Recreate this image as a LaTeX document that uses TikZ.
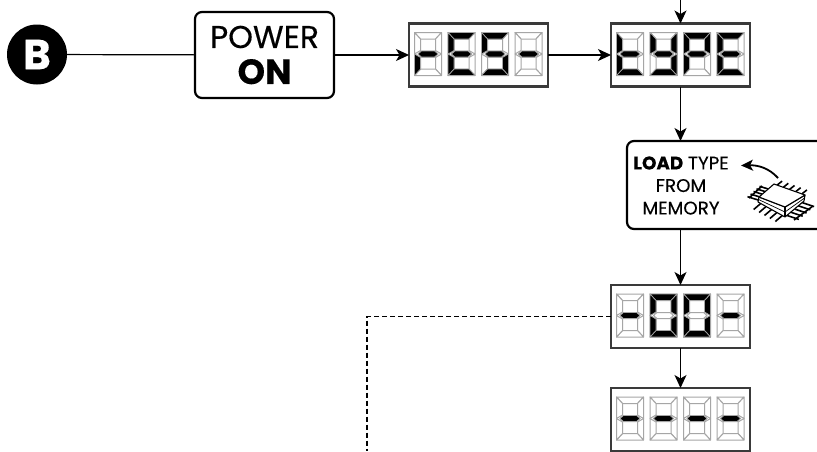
\documentclass[tikz,border=0pt]{standalone}
\usepackage{fontspec}
\setmainfont{Poppins}[FakeBold=0.35]
\usepackage{xcolor}
\usetikzlibrary{arrows.meta,positioning,calc}
\definecolor{frameline}{HTML}{3A3A3A}
\definecolor{segoff}{HTML}{A6A6A6}
% the seven segments, in a cell of 27 x 43
\def\sega{(0,0)--(27,0)--(21,6.5)--(6,6.5)--cycle}
\def\segb{(27,0)--(21,6.5)--(21,18)--(27,21.5)--cycle}
\def\segc{(27,43)--(21,36.5)--(21,25)--(27,21.5)--cycle}
\def\segd{(0,43)--(27,43)--(21,36.5)--(6,36.5)--cycle}
\def\sege{(0,43)--(6,36.5)--(6,25)--(0,21.5)--cycle}
\def\segf{(0,0)--(6,6.5)--(6,18)--(0,21.5)--cycle}
\def\segg{(3.5,21.5)--(7,18.5)--(20,18.5)--(23.5,21.5)--(20,24.5)--(7,24.5)--cycle}
\newcommand{\lcdcell}[3]{%
  \begin{scope}[shift={($(#1.center)+(#2,-22.5)$)}]
    \foreach \s in {a,b,c,d,e,f,g} {\draw[segoff,line width=1pt,line join=round,fill=white] \csname seg\s\endcsname;}
    \foreach \s in {#3} {\filldraw[draw=segoff,fill=black,line width=.7pt,line join=round] \csname seg\s\endcsname;}
  \end{scope}}
\newcommand{\lcd}[5]{%
  \lcdcell{#1}{-64}{#2}\lcdcell{#1}{-30.5}{#3}\lcdcell{#1}{3}{#4}\lcdcell{#1}{36.5}{#5}}

\begin{document}
\begin{tikzpicture}[x=1pt,y=-1pt,
  box/.style={draw=black,fill=white,rounded corners=7pt,line width=2.2pt,align=center,
              inner sep=0pt,outer sep=0pt},
  disp/.style={draw=frameline,fill=white,line width=2.4pt,minimum width=139pt,
               minimum height=63pt,inner sep=0pt,outer sep=0pt},
  w/.style={-{Stealth[length=13pt,width=12pt,inset=3.5pt]},line width=1.2pt},
  pin/.style={line width=1.6pt},
  body/.style={draw=black,fill=white,line width=1.1pt,line join=round}]
  \clip (0,0) rectangle (817,451);
  \node[circle,fill=black,text=white,minimum size=60pt,inner sep=0pt,outer sep=0pt,
        font=\fontsize{42}{42}\selectfont\bfseries] (b) at (37,54.5) {B};
  \node[box,minimum width=139pt,minimum height=86pt,font=\fontsize{31.5}{38}\selectfont] (pwr)
       at (264.5,55) {POWER\\[-2pt]{\fontsize{35}{38}\selectfont\bfseries ON}};
  \node[disp,right=75pt of pwr] (rest) {};
  \node[disp,right=63pt of rest] (tipe) {};
  \node[box,minimum width=230pt,minimum height=88pt,anchor=north west] (load) at (627,141) {};
  \node[font=\fontsize{18.3}{22.5}\selectfont,align=center,inner sep=0pt] (loadtxt) at (681,185.5)
       {{\bfseries LOAD} TYPE\\FROM\\MEMORY};
  \node[disp] (zero) at (680.5,316.5) {};
  \node[disp,below=40pt of zero] (dash) {};
  \coordinate (top) at (680.5,0);
  \coordinate (bend) at (367,316.5);
  \coordinate (end) at (367,451);

  \lcd{rest}{e,g}{a,d,e,f,g}{a,c,d,f,g}{g}
  \lcd{tipe}{d,e,f,g}{b,c,d,f,g}{a,b,e,f,g}{a,d,e,f,g}
  \lcd{zero}{g}{a,b,c,d,e,f}{a,b,c,d,e,f}{g}
  \lcd{dash}{g}{g}{g}{g}

  \draw[line width=1.2pt] (b) -- (pwr);
  \draw[w] (pwr) -- (rest);
  \draw[w] (rest) -- (tipe);
  \draw[w] (top) -- (tipe);
  \draw[w] (tipe) -- (tipe |- load.north);
  \draw[w] (tipe |- load.south) -- (zero);
  \draw[w] (zero) -- (dash);
  \draw[line width=1.2pt,dash pattern=on 5pt off 3pt] (zero.west) -- (bend) -- (end);

  % memory chip and its arrow
  \draw[-{Stealth[length=12pt,width=11pt,inset=3pt]},line width=1.8pt]
       (778,178) .. controls (769,168) and (758,165) .. (741,165.5);
  \coordinate (cl) at (759,197);
  \coordinate (cb) at (774,184);
  \coordinate (cr) at (805,195);
  \coordinate (cf) at (785,207);
  \coordinate (dl) at (758,202);
  \coordinate (df) at (785,217);
  \coordinate (dr) at (804,201);
  \foreach \f in {.1,.3,.5,.7,.9} {
    \draw[pin] ($(cl)!\f!(cb)+(0,5)$) -- ++(-13,-4);
    \draw[pin] ($(cb)!\f!(cr)$) -- ++(5,-4);
    \draw[pin] ($(dl)!\f!(df)$) -- ++(-7,6);
    \draw[pin] ($(df)!\f!(dr)$) -- ++(12,4);
  }
  \draw[pin] (749,198) -- (762,186);
  \draw[pin] (794,220) -- (813,206);
  \draw[body] (cl) -- (dl) -- (df) -- (dr) -- (cr) -- (cf) -- cycle;
  \draw[body] (cl) -- (cb) -- (cr) -- (cf) -- cycle;
  \draw[body] (cf) -- (df);
  \draw[line width=.7pt] ($(cl)!.5!(dl)$) -- ($(cf)!.5!(df)$) -- ($(cr)!.5!(dr)$);
\end{tikzpicture}
\end{document}
